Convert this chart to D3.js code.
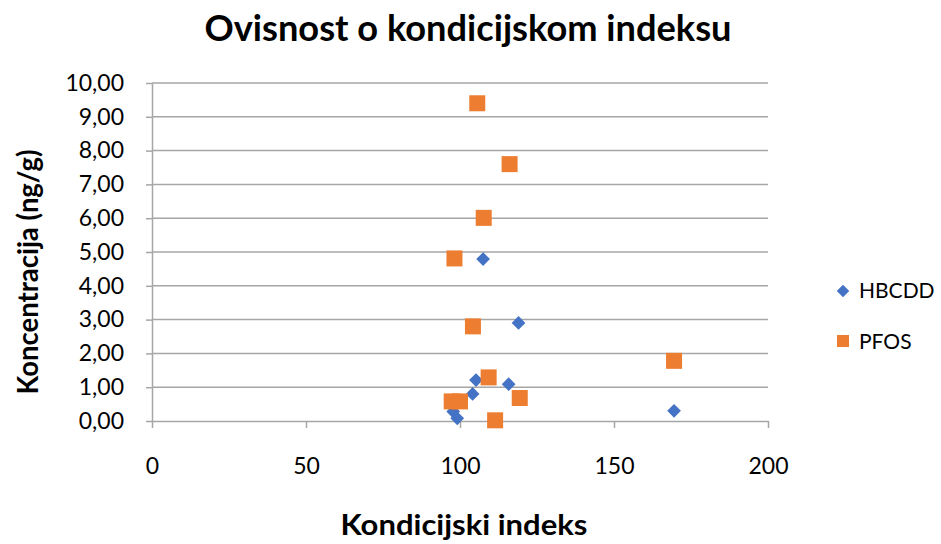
<!DOCTYPE html>
<html>
<head>
<meta charset="utf-8">
<script src="https://cdn.jsdelivr.net/npm/d3@7"></script>
<style>
  body { margin: 0; background: #fff; }
  text { font-family: Lato, "Open Sans", sans-serif; fill: #000; }
</style>
</head>
<body>
<div class="chart"></div>
<script>
// data
var seriesNames = ['HBCDD', 'PFOS'];
var hbcddX = [107.5, 119.0, 105.2, 115.8, 104.1, 97.8, 99.1, 169.5];
var hbcddY = [4.79, 2.90, 1.21, 1.09, 0.80, 0.28, 0.08, 0.30];
var pfosX = [105.6, 116.1, 107.7, 98.2, 104.2, 109.3, 119.4, 97.3, 100.0, 111.4, 169.5];
var pfosY = [9.40, 7.60, 6.01, 4.81, 2.80, 1.29, 0.68, 0.58, 0.58, 0.02, 1.78];
var xTicks = [0, 50, 100, 150, 200];
var yTicks = [0, 1, 2, 3, 4, 5, 6, 7, 8, 9, 10];

var width = 941, height = 544;
var margin = {top: 83, right: 173, bottom: 123, left: 152};

var svg = d3.select('.chart')
  .append('svg')
  .attr('width', width)
  .attr('height', height);

var xScale = d3.scaleLinear()
  .domain([0, 200])
  .range([margin.left, width - margin.right]);

var yScale = d3.scaleLinear()
  .domain([0, 10])
  .range([height - margin.bottom, margin.top]);

var grey = '#a6a6a6';
var fmt = function(d) { return d3.format('.2f')(d).replace('.', ','); };

// gridlines
svg.append('g')
  .selectAll('line')
  .data(yTicks.slice(1))
  .enter()
  .append('line')
  .attr('x1', xScale(0))
  .attr('x2', xScale(200))
  .attr('y1', (d) => yScale(d))
  .attr('y2', (d) => yScale(d))
  .attr('stroke', grey)
  .attr('stroke-width', 1.5);

// axes
var xAxis = d3.axisBottom(xScale).tickValues(xTicks).tickSize(7).tickSizeOuter(0).tickPadding(30);
var yAxis = d3.axisLeft(yScale).tickValues(yTicks).tickFormat(fmt).tickSize(6).tickSizeOuter(0).tickPadding(22);

var gx = svg.append('g')
  .attr('transform', 'translate(0,' + yScale(0) + ')')
  .call(xAxis);

var gy = svg.append('g')
  .attr('transform', 'translate(' + xScale(0) + ',0)')
  .call(yAxis);

[gx, gy].forEach(function(g) {
  g.selectAll('path, line').attr('stroke', grey).attr('stroke-width', 1.5);
  g.selectAll('text').style('font-size', '23px').style('font-family', 'Lato, sans-serif').attr('fill', '#000');
});

// points
var diamond = d3.symbol().type(d3.symbolDiamond2).size(120);

svg.append('g')
  .selectAll('path')
  .data(hbcddX.map((x, i) => [x, hbcddY[i]]))
  .enter()
  .append('path')
  .attr('d', diamond)
  .attr('transform', (d) => 'translate(' + xScale(d[0]) + ',' + yScale(d[1]) + ')')
  .attr('fill', '#4472c4');

svg.append('g')
  .selectAll('rect')
  .data(pfosX.map((x, i) => [x, pfosY[i]]))
  .enter()
  .append('rect')
  .attr('x', (d) => xScale(d[0]) - 8)
  .attr('y', (d) => yScale(d[1]) - 8)
  .attr('width', 16)
  .attr('height', 16)
  .attr('fill', '#ed7d31');

// legend
var legend = svg.append('g').attr('transform', 'translate(843,0)');
legend.append('path')
  .attr('d', d3.symbol().type(d3.symbolDiamond2).size(100))
  .attr('transform', 'translate(0,291)')
  .attr('fill', '#4472c4');
legend.append('rect')
  .attr('x', -6).attr('y', 335).attr('width', 12).attr('height', 12)
  .attr('fill', '#ed7d31');
legend.selectAll('text')
  .data(seriesNames)
  .enter()
  .append('text')
  .attr('x', 16)
  .attr('y', (d, i) => 298 + i * 51)
  .style('font-size', '21px')
  .text((d) => d);

// titles
svg.append('text')
  .attr('x', 468)
  .attr('y', 41)
  .attr('text-anchor', 'middle')
  .attr('textLength', 527)
  .attr('lengthAdjust', 'spacingAndGlyphs')
  .style('font-size', '37px')
  .style('font-weight', 'bold')
  .text('Ovisnost o kondicijskom indeksu');

svg.append('text')
  .attr('x', 464)
  .attr('y', 535)
  .attr('text-anchor', 'middle')
  .attr('textLength', 247)
  .attr('lengthAdjust', 'spacingAndGlyphs')
  .style('font-size', '28px')
  .style('font-weight', 'bold')
  .text('Kondicijski indeks');

svg.append('text')
  .attr('transform', 'translate(38,272) rotate(-90)')
  .attr('text-anchor', 'middle')
  .attr('textLength', 245)
  .attr('lengthAdjust', 'spacingAndGlyphs')
  .style('font-size', '28px')
  .style('font-weight', 'bold')
  .text('Koncentracija (ng/g)');
</script>
</body>
</html>
